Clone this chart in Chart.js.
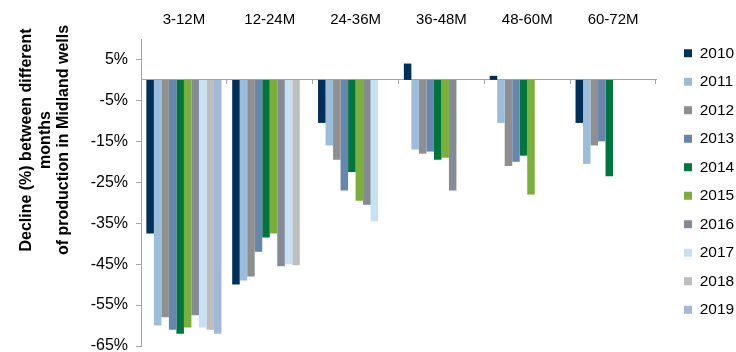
<!DOCTYPE html>
<html>
<head>
<meta charset="utf-8">
<script src="https://cdn.jsdelivr.net/npm/chart.js@4/dist/chart.umd.min.js"></script>
<style>
  html, body { margin: 0; padding: 0; background: #fff; }
  #wrap { width: 736px; height: 352px; }
</style>
</head>
<body>
<div id="wrap"><canvas id="c" width="736" height="352"></canvas></div>
<script>
// Production-month windows and well vintages
const periods = ['3-12M', '12-24M', '24-36M', '36-48M', '48-60M', '60-72M'];
const years = ['2010', '2011', '2012', '2013', '2014', '2015', '2016', '2017', '2018', '2019'];

// Decline (%) per vintage, one value per window
const decline2010 = [-37.5, -50, -10.5, 4, 1, -10.5];
const decline2011 = [-60, -49, -16, -17, -10.5, -20.5];
const decline2012 = [-58, -48, -19.5, -18, -21, -16];
const decline2013 = [-61, -42, -27, -17.5, -20, -15];
const decline2014 = [-62, -38.5, -22.5, -19.5, -18.5, -23.5];
const decline2015 = [-60.5, -37.5, -29.5, -19, -28, null];
const decline2016 = [-57.5, -45.5, -30.5, -27, null, null];
const decline2017 = [-60.5, -45, -34.5, null, null, null];
const decline2018 = [-61, -45.3, null, null, null, null];
const decline2019 = [-62, null, null, null, null, null];

const yTicks = [5, -5, -15, -25, -35, -45, -55, -65];
const yTitle = ['Decline (%) between different', 'months', 'of production in Midland wells'];

const series = [decline2010, decline2011, decline2012, decline2013, decline2014,
                decline2015, decline2016, decline2017, decline2018, decline2019];
const colors = ['#002F5A', '#9BBDD9', '#8F8F8F', '#6686B0', '#00753D',
                '#7CAE3C', '#848B97', '#C6E1F4', '#BEBEBE', '#A2B8D7'];

const FONT = '"Liberation Sans", Arial, sans-serif';
const AXIS = '#A6A6A6';

// Rotated three-line axis caption, placed left of the value axis
const axisCaption = {
  id: 'axisCaption',
  afterDraw(chart) {
    const { ctx, chartArea } = chart;
    ctx.save();
    ctx.fillStyle = '#000';
    ctx.font = 'bold 16px ' + FONT;
    ctx.textAlign = 'center';
    ctx.textBaseline = 'middle';
    const cy = chartArea.top + 101;
    yTitle.forEach((line, i) => {
      ctx.save();
      ctx.translate(chartArea.left - 114.5 + i * 18.7, cy);
      ctx.rotate(-Math.PI / 2);
      ctx.fillText(line, 0, 0);
      ctx.restore();
    });
    ctx.restore();
  }
};

new Chart(document.getElementById('c'), {
  type: 'bar',
  data: {
    labels: periods,
    datasets: years.map((y, i) => ({
      label: y,
      data: series[i],
      backgroundColor: colors[i],
      borderWidth: 0,
      categoryPercentage: 0.875,
      barPercentage: 1
    }))
  },
  plugins: [axisCaption],
  options: {
    responsive: false,
    animation: false,
    layout: { padding: { top: 1, right: 0, bottom: 6, left: 90 } },
    plugins: {
      legend: {
        position: 'right',
        maxWidth: 65,
        // blank title only pushes the key list a little lower
        title: { display: true, text: ' ', font: { size: 10, lineHeight: 1.2 }, padding: 2 },
        labels: {
          boxWidth: 8,
          boxHeight: 8,
          padding: 13,
          color: '#000',
          font: { family: FONT, size: 15.5 }
        }
      },
      tooltip: { enabled: false }
    },
    scales: {
      x: {
        position: 'top',
        grid: { display: false, drawTicks: false },
        border: { display: false },
        ticks: { color: '#000', padding: 10, font: { family: FONT, size: 15 } }
      },
      // zero line with category separators
      x2: {
        type: 'category',
        position: { y: 0 },
        offset: true,
        grid: { offset: true, drawOnChartArea: false, drawTicks: true, tickLength: 4, color: AXIS },
        border: { display: true, color: AXIS, width: 1 },
        ticks: { display: false }
      },
      y: {
        min: -65,
        max: 10,
        afterBuildTicks: (scale) => { scale.ticks = yTicks.map(v => ({ value: v })); },
        afterFit: (s) => { s.width = 51; s.paddingTop = 0; s.paddingBottom = 0; },
        grid: { drawOnChartArea: false, tickLength: 5, color: AXIS },
        border: { display: true, color: AXIS, width: 1 },
        ticks: {
          color: '#000',
          padding: 8,
          font: { family: FONT, size: 16 },
          callback: (v) => v + '%'
        }
      },
      // spacer between plot and legend
      yGap: {
        position: 'right',
        grid: { display: false, drawTicks: false },
        border: { display: false },
        ticks: { display: false },
        afterFit: (s) => { s.width = 15; s.paddingTop = 0; s.paddingBottom = 0; }
      }
    }
  }
});
</script>
</body>
</html>
